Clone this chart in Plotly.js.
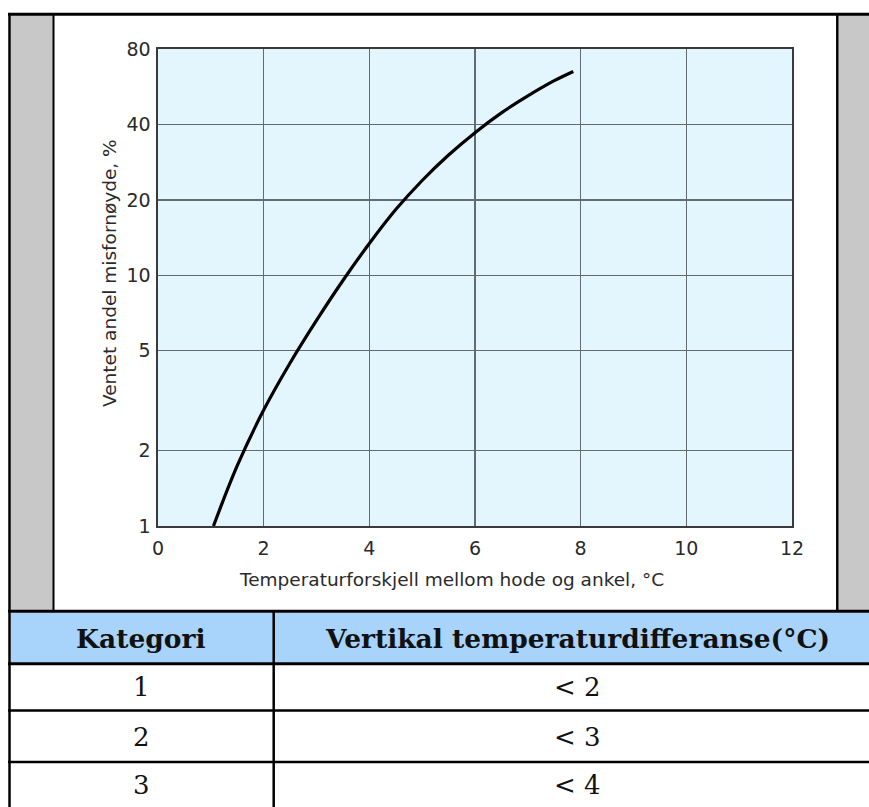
<!DOCTYPE html>
<html>
<head>
<meta charset="utf-8">
<script src="https://cdn.plot.ly/plotly-3.0.1.min.js"></script>
<style>html,body{margin:0;padding:0;background:#fff;}#chart{width:869px;height:807px;}</style>
</head>
<body>
<div id="chart"></div>
<script>
// ---- data ----
const tempDiff = [1.05, 1.5, 2.0, 2.5, 3.0, 3.5, 4.0, 4.5, 5.0, 5.5, 6.0, 6.5, 7.0, 7.5, 7.86];
const dissatisfied = [1.0, 1.74, 2.9, 4.47, 6.61, 9.54, 13.4, 18.3, 23.9, 30.2, 37.1, 44.5, 52.0, 59.8, 65.1];
const xTicks = [0, 2, 4, 6, 8, 10, 12];
const yTicks = [1, 2, 5, 10, 20, 40, 80];
const yTickText = ['1', '2', '5', '10', '20', '40', '80'];
const xTitle = 'Temperaturforskjell mellom hode og ankel, °C';
const yTitle = 'Ventet andel misfornøyde, %';
const tableHeader = ['Kategori', 'Vertikal temperaturdifferanse(°C)'];
const categories = ['1', '2', '3'];
const verticalDiffs = ['< 2', '< 3', '< 4'];

// ---- layout helpers (pixel -> paper) ----
const W = 869, H = 807;
const px = x => x / W;
const py = y => 1 - y / H;

const techFont = '"DejaVu Sans", sans-serif';
const serif = '"DejaVu Serif", "Liberation Serif", serif';
const textCol = '#2a2a2a';

const shapes = [];
function rect(x0, y0, x1, y1, fill) {
  shapes.push({type: 'rect', xref: 'paper', yref: 'paper', x0: px(x0), x1: px(x1), y0: py(y1), y1: py(y0),
    fillcolor: fill, line: {width: 0}, layer: 'below'});
}
function line(x0, y0, x1, y1, w) {
  shapes.push({type: 'line', xref: 'paper', yref: 'paper', x0: px(x0), x1: px(x1), y0: py(y0), y1: py(y1),
    line: {color: '#000', width: w}, layer: 'above'});
}
// frame around the figure
rect(10.7, 15, 53, 611, '#c8c8c8');
rect(838.5, 15, 880, 611, '#c8c8c8');
// table header fill
rect(10.7, 612.5, 880, 662.7, '#a8d4fb');
line(8, 14.3, 880, 14.3, 3);
line(9.5, 13, 9.5, 810, 2.5);
line(53.5, 14, 53.5, 611, 2);
line(837.3, 14, 837.3, 611, 2.5);
// table lines
line(8, 611.3, 880, 611.3, 3);
line(8, 663.7, 880, 663.7, 3);
line(8, 710.5, 880, 710.5, 2.5);
line(8, 762, 880, 762, 2.5);
line(273.7, 611, 273.7, 810, 2.5);

const annotations = [];
// axis titles (placed as in the reference, slightly off-centre)
annotations.push({xref: 'paper', yref: 'paper', x: px(451.5), y: py(579), xanchor: 'center', yanchor: 'middle',
  text: xTitle, showarrow: false, font: {family: techFont, size: 18.5, color: textCol}});
annotations.push({xref: 'paper', yref: 'paper', x: px(109), y: py(273), xanchor: 'center', yanchor: 'middle',
  text: yTitle, textangle: -90, showarrow: false, font: {family: techFont, size: 18.5, color: textCol}});

const colCenters = [141, 577];
const rowCenters = [687, 737, 785];
tableHeader.forEach((t, i) => annotations.push({
  xref: 'paper', yref: 'paper', x: px(colCenters[i]), y: py(638), xanchor: 'center', yanchor: 'middle',
  text: '<b>' + t + '</b>', showarrow: false, font: {family: serif, size: 26.5, color: '#111'}
}));
categories.forEach((c, r) => {
  annotations.push({xref: 'paper', yref: 'paper', x: px(colCenters[0]), y: py(rowCenters[r]),
    xanchor: 'center', yanchor: 'middle', text: c, showarrow: false,
    font: {family: serif, size: 26, color: '#111'}});
  annotations.push({xref: 'paper', yref: 'paper', x: px(colCenters[1]), y: py(rowCenters[r]),
    xanchor: 'center', yanchor: 'middle', text: verticalDiffs[r], showarrow: false,
    font: {family: serif, size: 26, color: '#111'}});
});

const trace = {
  x: tempDiff, y: dissatisfied, type: 'scatter', mode: 'lines',
  line: {color: '#000', width: 3.2, shape: 'spline', smoothing: 1.0},
  hoverinfo: 'skip', showlegend: false
};

const layout = {
  width: W, height: H,
  margin: {l: 0, r: 0, t: 0, b: 0},
  paper_bgcolor: '#ffffff',
  plot_bgcolor: '#e4f6fd',
  showlegend: false,
  xaxis: {
    domain: [158 / W, 792 / W], range: [0, 12], tickvals: xTicks, ticktext: xTicks.map(String),
    showgrid: true, gridcolor: '#626b6f', gridwidth: 1.3, zeroline: false,
    showline: true, mirror: true, linecolor: '#3a3a3a', linewidth: 1.6,
    ticks: 'outside', ticklen: 5, tickcolor: 'rgba(0,0,0,0)',
    tickfont: {family: techFont, size: 19, color: textCol},
    automargin: false, fixedrange: true
  },
  yaxis: {
    domain: [1 - 526 / H, 1 - 49 / H], type: 'log', range: [0, Math.log10(80)],
    tickvals: yTicks, ticktext: yTickText,
    showgrid: true, gridcolor: '#626b6f', gridwidth: 1.3, zeroline: false,
    showline: true, mirror: true, linecolor: '#3a3a3a', linewidth: 1.6,
    ticks: 'outside', ticklen: 2, tickcolor: 'rgba(0,0,0,0)',
    tickfont: {family: techFont, size: 19, color: textCol},
    automargin: false, fixedrange: true
  },
  shapes: shapes,
  annotations: annotations
};

Plotly.newPlot('chart', [trace], layout, {displayModeBar: false, staticPlot: true});
</script>
</body>
</html>
